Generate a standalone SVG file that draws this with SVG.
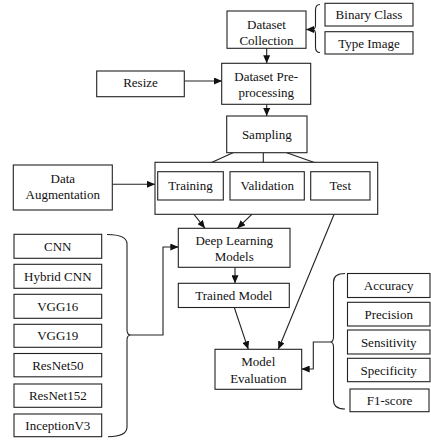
<svg xmlns="http://www.w3.org/2000/svg" width="431" height="441" viewBox="0 0 431 441">
<defs>
<style>
.b{fill:#fff;stroke:#222;stroke-width:1.1}
text{font-family:'Liberation Serif','Times New Roman',serif;font-size:13px;fill:#111;text-anchor:middle}
.c{fill:none;stroke:#222;stroke-width:1.1}
.a{marker-end:url(#ah)}
</style>
<marker id="ah" markerUnits="userSpaceOnUse" markerWidth="8" markerHeight="7" refX="8" refY="3.5" orient="auto">
<path d="M0,0 L8,3.5 L0,7 z" fill="#111"/>
</marker>
</defs>
<rect width="431" height="441" fill="#fff"/>

<g id="connectors">
<path class="c a" d="M266.7,48.3 V63.3"/>
<path class="c a" d="M266.7,104.3 V116"/>
<path class="c a" d="M184.3,81 H222"/>
<path class="c a" d="M233,152.7 L191.7,171.5"/>
<path class="c a" d="M263.3,152.7 V171.5"/>
<path class="c a" d="M286.7,152.7 L340,171.5"/>
<path class="c a" d="M112.3,184.3 H155"/>
<path class="c a" d="M182.7,200 L205,228.3"/>
<path class="c a" d="M266.7,200 L237.3,228.3"/>
<path class="c a" d="M235,267.3 V283.3"/>
<path class="c a" d="M234.3,307.5 L248.3,349.3"/>
<path class="c a" d="M340,200 L278.3,349.3"/>
<path class="c a" d="M312,29.5 H306"/>
<path class="c a" d="M131,335 H163 V247 H178.3"/>
<path class="c a" d="M330,342 H313.3 V369 H301.7"/>
<path class="c" d="M320,4.5 Q315.5,4.5 315.5,10 L315.5,25 Q315.5,29.5 312,29.5 Q315.5,29.5 315.5,34 L315.5,47 Q315.5,52.5 320,52.5"/>
<path class="c" d="M107,234.5 Q127,234.5 127,244 L127,330 Q127,335 131,335 Q127,335 127,340 L127,427 Q127,436.7 108,436.7"/>
<path class="c" d="M345,273.5 Q333.5,273.5 333.5,282 L333.5,337 Q333.5,342 330,342 Q333.5,342 333.5,347 L333.5,400 Q333.5,409 345,409"/>
</g>

<g id="dataset-collection"><rect class="b" x="227" y="11" width="79" height="37.3"/><text font-family="Liberation Serif, serif" x="266.5" y="29">Dataset</text><text x="266.5" y="45.3">Collection</text></g>
<g id="binary-class"><rect class="b" x="325" y="3.3" width="88" height="22.7"/><text x="369" y="19">Binary Class</text></g>
<g id="type-image"><rect class="b" x="325" y="31.7" width="88" height="22.3"/><text x="369" y="47.5">Type Image</text></g>
<g id="preprocessing"><rect class="b" x="221.7" y="63.3" width="89" height="41"/><text x="266.2" y="81">Dataset Pre-</text><text x="266.2" y="96.5">processing</text></g>
<g id="resize"><rect class="b" x="96.7" y="71" width="87.6" height="25.7"/><text x="140.5" y="87.3">Resize</text></g>
<g id="sampling"><rect class="b" x="226.7" y="116" width="80.3" height="36.7"/><text x="266.8" y="139">Sampling</text></g>
<g id="split-group"><rect class="b" x="155" y="162.3" width="222.7" height="52"/></g>
<g id="training"><rect class="b" x="157.7" y="171.7" width="65.6" height="28.3"/><text x="190.5" y="190">Training</text></g>
<g id="validation"><rect class="b" x="230" y="171.7" width="74.3" height="28.3"/><text x="267.2" y="190">Validation</text></g>
<g id="test"><rect class="b" x="310.7" y="171.7" width="59.3" height="28.3"/><text x="340.3" y="190">Test</text></g>
<g id="data-augmentation"><rect class="b" x="13.3" y="165" width="99" height="45"/><text x="62.8" y="183.3">Data</text><text x="62.8" y="198.8">Augmentation</text></g>
<g id="deep-learning-models"><rect class="b" x="178.3" y="228.3" width="111.7" height="39"/><text x="234.2" y="244.5">Deep Learning</text><text x="234.2" y="261">Models</text></g>
<g id="trained-model"><rect class="b" x="178.3" y="283.3" width="111" height="24.2"/><text x="233.8" y="300">Trained Model</text></g>
<g id="model-evaluation"><rect class="b" x="215" y="349.3" width="86.7" height="40"/><text x="258.3" y="366">Model</text><text x="258.3" y="382.5">Evaluation</text></g>

<g id="cnn"><rect class="b" x="14" y="234.3" width="87.7" height="24"/><text x="57.8" y="250.8">CNN</text></g>
<g id="hybrid-cnn"><rect class="b" x="14" y="264.3" width="87.7" height="24"/><text x="57.8" y="280.8">Hybrid CNN</text></g>
<g id="vgg16"><rect class="b" x="14" y="294.3" width="87.7" height="24"/><text x="57.8" y="310.8">VGG16</text></g>
<g id="vgg19"><rect class="b" x="14" y="324.3" width="87.7" height="23"/><text x="57.8" y="340.3">VGG19</text></g>
<g id="resnet50"><rect class="b" x="14" y="353.5" width="87.7" height="23.3"/><text x="57.8" y="369.7">ResNet50</text></g>
<g id="resnet152"><rect class="b" x="14" y="384" width="87.7" height="23.3"/><text x="57.8" y="400.2">ResNet152</text></g>
<g id="inceptionv3"><rect class="b" x="14" y="414" width="87.7" height="22.7"/><text x="57.8" y="430">InceptionV3</text></g>

<g id="accuracy"><rect class="b" x="347.5" y="273.5" width="82.5" height="24"/><text x="388.7" y="290">Accuracy</text></g>
<g id="precision"><rect class="b" x="347.5" y="302.3" width="82.5" height="23.7"/><text x="388.7" y="318.6">Precision</text></g>
<g id="sensitivity"><rect class="b" x="347.5" y="330" width="82.5" height="24"/><text x="388.7" y="346.5">Sensitivity</text></g>
<g id="specificity"><rect class="b" x="347.5" y="358.3" width="82.5" height="23.4"/><text x="388.7" y="374.5">Specificity</text></g>
<g id="f1-score"><rect class="b" x="350" y="389" width="79" height="22.7"/><text x="389.5" y="405">F1-score</text></g>
</svg>
